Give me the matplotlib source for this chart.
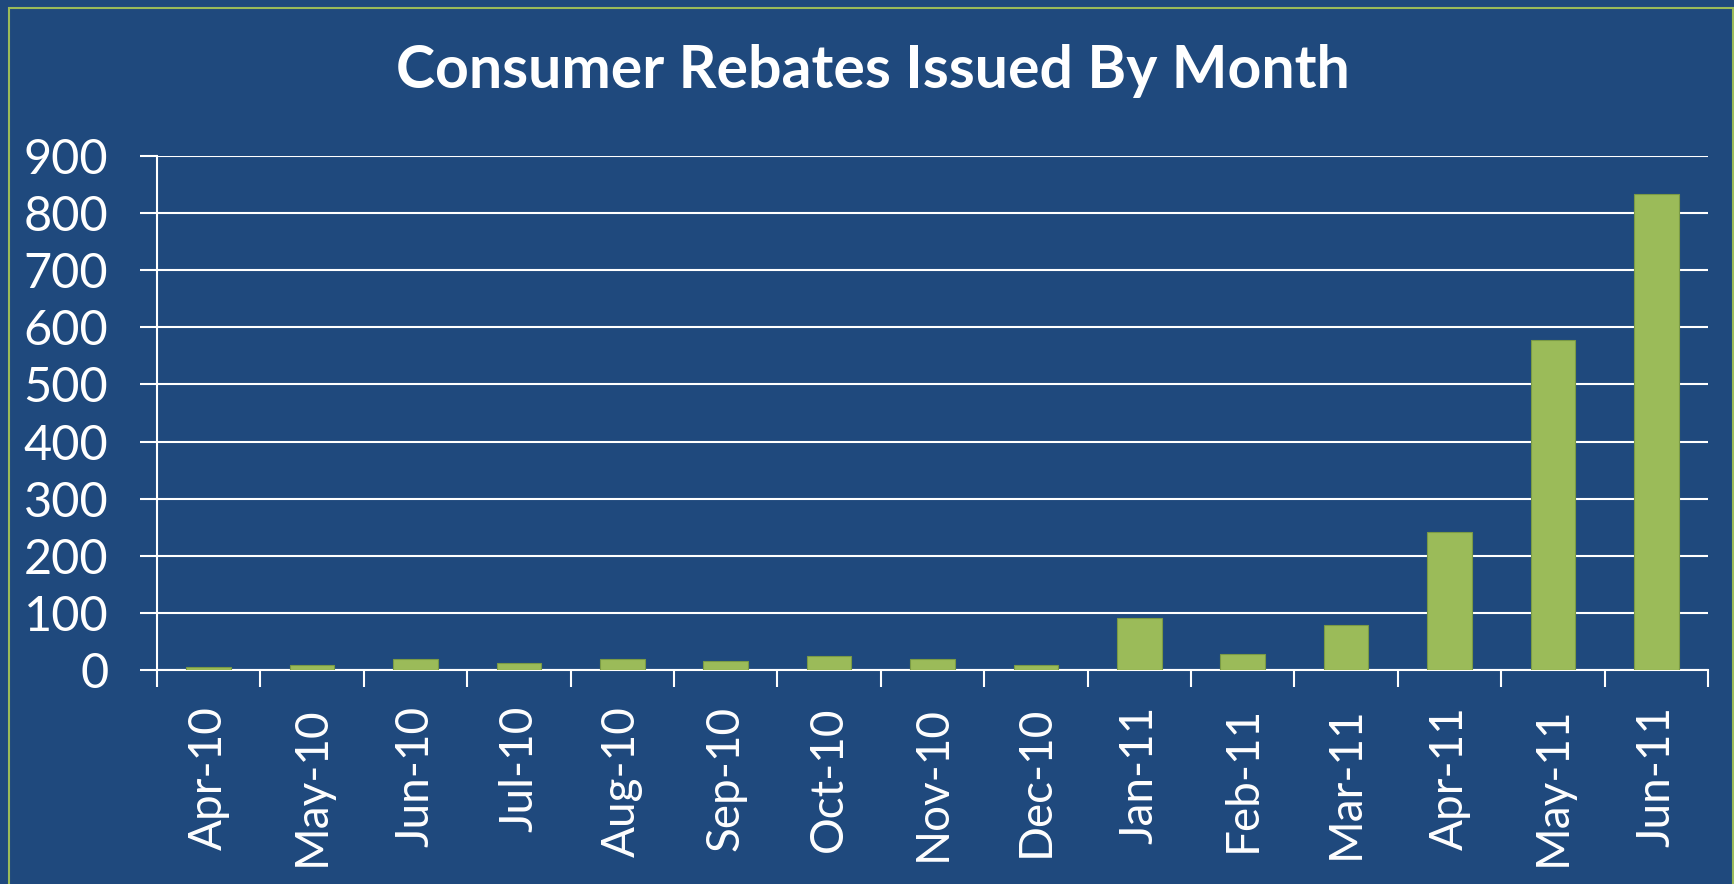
import numpy as np
import matplotlib.pyplot as plt
from matplotlib.patches import Rectangle

# monthly rebate counts
months = ["Apr-10", "May-10", "Jun-10", "Jul-10", "Aug-10", "Sep-10", "Oct-10",
          "Nov-10", "Dec-10", "Jan-11", "Feb-11", "Mar-11", "Apr-11", "May-11", "Jun-11"]
rebates = [6, 9, 19, 12, 20, 15, 25, 19, 9, 91, 28, 79, 241, 577, 834]
y_ticks = [0, 100, 200, 300, 400, 500, 600, 700, 800, 900]

bg = "#1F497D"
green = "#9BBB59"

plt.rcParams['font.family'] = ['Lato', 'DejaVu Sans']

fig = plt.figure(figsize=(17.34, 8.84), dpi=100, facecolor=bg)
ax = fig.add_axes([157 / 1734, 1 - 670 / 884, (1708 - 157) / 1734, (670 - 156) / 884])
ax.set_facecolor(bg)

x = np.arange(len(months))
ax.bar(x, rebates, width=0.43, color=green, edgecolor="#7A9A45", linewidth=0.8, zorder=3)

ax.set_xlim(-0.5, len(months) - 0.5)
ax.set_ylim(0, 900)
ax.set_yticks(y_ticks)
ax.yaxis.grid(True, color="white", linewidth=1.5, zorder=0)
ax.set_axisbelow(True)

ax.set_xticks(x)
ax.set_xticklabels(months, rotation=90, fontsize=33, color="white")
ax.set_xticks(np.arange(-0.5, len(months), 1), minor=True)
ax.tick_params(axis="x", which="major", length=0, pad=26)
ax.tick_params(axis="x", which="minor", length=12, width=1.5, color="white")
ax.tick_params(axis="y", length=12, width=1.5, color="white", labelcolor="white",
               labelsize=35, pad=23)

for side in ["top", "right"]:
    ax.spines[side].set_visible(False)
for side in ["left", "bottom"]:
    ax.spines[side].set_color("white")
    ax.spines[side].set_linewidth(1.5)

fig.text(873 / 1734, 1 - 88 / 884, "Consumer Rebates Issued By Month", ha="center",
         va="baseline", fontsize=42.5, fontweight="bold", color="white")

# thin green frame around the chart area
fig.add_artist(Rectangle((9 / 1734, -0.02), (1733 - 9) / 1734, 1.02 - 8 / 884,
                         transform=fig.transFigure, fill=False, edgecolor=green, linewidth=1.5))

fig.savefig("out.png", dpi=100, facecolor=bg)
